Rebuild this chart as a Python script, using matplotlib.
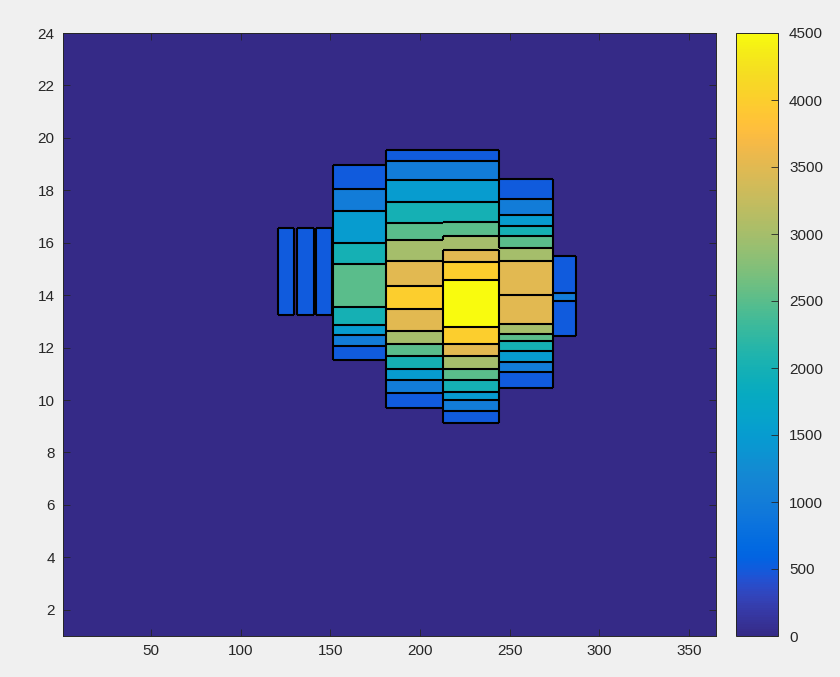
import numpy as np
import matplotlib
matplotlib.use("Agg")
import matplotlib.pyplot as plt
from matplotlib.colors import LinearSegmentedColormap, Normalize
from matplotlib.cm import ScalarMappable

plt.rcParams['font.family'] = ['Liberation Sans', 'DejaVu Sans']

# MATLAB parula colormap (64 entries)
parula_data = [
    [0.2081, 0.1663, 0.5292], [0.2116, 0.1898, 0.5777], [0.2123, 0.2138, 0.6270], [0.2081, 0.2386, 0.6771],
    [0.1959, 0.2645, 0.7279], [0.1707, 0.2919, 0.7792], [0.1253, 0.3242, 0.8303], [0.0591, 0.3598, 0.8683],
    [0.0117, 0.3875, 0.8820], [0.0060, 0.4086, 0.8828], [0.0165, 0.4266, 0.8786], [0.0329, 0.4430, 0.8720],
    [0.0498, 0.4586, 0.8641], [0.0629, 0.4737, 0.8554], [0.0723, 0.4887, 0.8467], [0.0779, 0.5040, 0.8384],
    [0.0793, 0.5200, 0.8312], [0.0749, 0.5375, 0.8263], [0.0641, 0.5570, 0.8240], [0.0488, 0.5772, 0.8228],
    [0.0343, 0.5966, 0.8199], [0.0265, 0.6137, 0.8135], [0.0239, 0.6287, 0.8038], [0.0231, 0.6418, 0.7913],
    [0.0228, 0.6535, 0.7768], [0.0267, 0.6642, 0.7607], [0.0384, 0.6743, 0.7436], [0.0590, 0.6838, 0.7254],
    [0.0843, 0.6928, 0.7062], [0.1133, 0.7015, 0.6859], [0.1453, 0.7098, 0.6646], [0.1801, 0.7177, 0.6424],
    [0.2178, 0.7250, 0.6193], [0.2586, 0.7317, 0.5954], [0.3022, 0.7376, 0.5712], [0.3482, 0.7424, 0.5473],
    [0.3953, 0.7459, 0.5244], [0.4420, 0.7481, 0.5033], [0.4871, 0.7491, 0.4840], [0.5300, 0.7491, 0.4661],
    [0.5709, 0.7485, 0.4494], [0.6099, 0.7473, 0.4337], [0.6473, 0.7456, 0.4188], [0.6834, 0.7435, 0.4044],
    [0.7184, 0.7411, 0.3905], [0.7525, 0.7384, 0.3768], [0.7858, 0.7356, 0.3633], [0.8185, 0.7327, 0.3498],
    [0.8507, 0.7299, 0.3360], [0.8824, 0.7274, 0.3217], [0.9139, 0.7258, 0.3063], [0.9450, 0.7261, 0.2886],
    [0.9739, 0.7314, 0.2666], [0.9938, 0.7455, 0.2403], [0.9990, 0.7653, 0.2164], [0.9955, 0.7861, 0.1967],
    [0.9880, 0.8066, 0.1794], [0.9789, 0.8271, 0.1633], [0.9697, 0.8481, 0.1475], [0.9626, 0.8705, 0.1309],
    [0.9589, 0.8949, 0.1132], [0.9598, 0.9218, 0.0948], [0.9661, 0.9514, 0.0755], [0.9763, 0.9831, 0.0538],
]
parula = LinearSegmentedColormap.from_list("parula", parula_data, N=256)

# Data: day-of-year spans, hour band edges (bottom -> top) and band levels
may_bar_days = [(121.0, 130.0), (131.3, 141.0), (142.1, 150.8)]
may_hours = [13.23, 16.57]
may_levels = [500]

june_days = (151.3, 181.0)
june_edges = [11.51, 12.06, 12.47, 12.86, 13.56, 15.17, 15.99, 17.20, 18.06, 18.95]
june_levels = [500, 1000, 1500, 2000, 2500, 2000, 1500, 1000, 500]

july_days = (181.0, 212.8)
july_edges = [9.71, 10.28, 10.76, 11.20, 11.68, 12.12, 12.63, 13.46, 14.34,
              15.29, 16.12, 16.76, 17.56, 18.40, 19.10, 19.55]
july_levels = [500, 1000, 1500, 2000, 2500, 3000, 3500, 4000, 3500,
               3000, 2500, 2000, 1500, 1000, 500]

aug_days = (212.8, 244.0)
aug_edges = [9.14, 9.58, 9.99, 10.32, 10.76, 11.20, 11.68, 12.12, 12.78,
             14.57, 15.27, 15.74, 16.25, 16.78, 17.56, 18.40, 19.10, 19.55]
aug_levels = [500, 1000, 1500, 2000, 2500, 3000, 3500, 4000, 4500,
              4000, 3500, 3000, 2500, 2000, 1500, 1000, 500]

sept_days = (244.0, 274.1)
sept_edges = [10.47, 11.08, 11.46, 11.87, 12.25, 12.53, 12.89, 13.99,
              15.29, 15.80, 16.27, 16.65, 17.07, 17.67, 18.43]
sept_levels = [500, 1000, 1500, 2000, 2500, 3000, 3500, 3500,
               3000, 2500, 2000, 1500, 1000, 500]

oct_days = (274.1, 286.9)
oct_edges = [12.44, 13.77, 14.09, 15.51]
oct_levels = [500, 1000, 500]

x_ticks = [50, 100, 150, 200, 250, 300, 350]
y_ticks = list(range(2, 25, 2))
cbar_ticks = list(range(0, 4501, 500))

vmin, vmax = 0, 4500
norm = Normalize(vmin, vmax)

columns = [(d, may_hours, may_levels) for d in may_bar_days] + [
    (june_days, june_edges, june_levels),
    (july_days, july_edges, july_levels),
    (aug_days, aug_edges, aug_levels),
    (sept_days, sept_edges, sept_levels),
    (oct_days, oct_edges, oct_levels),
]

BG = '#f0f0f0'
TXT = '#262626'
LW = 1.5
fig = plt.figure(figsize=(8.4, 6.77), dpi=100, facecolor=BG)
ax = fig.add_axes([63 / 840, 41 / 677, 653 / 840, 603 / 677])
ax.set_facecolor(parula(norm(vmin)))

# filled bands
for days, edges, levels in columns:
    edges = np.asarray(edges)
    n = len(levels)
    ax.bar(np.full(n, days[0]), np.diff(edges), width=days[1] - days[0],
           bottom=edges[:-1], align='edge',
           color=parula(norm(np.asarray(levels))), edgecolor='none', zorder=2)
    # horizontal band boundaries
    ax.hlines(edges, days[0], days[1], colors='black', linewidth=LW, zorder=3)

# vertical boundaries: only where the level differs on either side
yy = np.arange(1.0, 24.0, 0.002)


def level_at(edges, levels):
    edges = np.asarray(edges)
    idx = np.searchsorted(edges, yy, side='right') - 1
    out = np.zeros_like(yy)
    ok = (idx >= 0) & (idx < len(levels))
    out[ok] = np.asarray(levels)[idx[ok]]
    return out


def draw_vertical(x, left, right):
    diff = left != right
    if not diff.any():
        return
    d = np.diff(np.concatenate([[0], diff.astype(int), [0]]))
    starts = np.where(d == 1)[0]
    stops = np.where(d == -1)[0] - 1
    ax.vlines(np.full(len(starts), x), yy[starts], yy[stops],
              colors='black', linewidth=LW, zorder=3)


profiles = [level_at(e, l) for _, e, l in columns]
zero = np.zeros_like(yy)
for i, (days, _, _) in enumerate(columns):
    prev_adjacent = i > 0 and abs(columns[i - 1][0][1] - days[0]) < 1e-6
    next_adjacent = i + 1 < len(columns) and abs(columns[i + 1][0][0] - days[1]) < 1e-6
    if not prev_adjacent:
        draw_vertical(days[0], zero, profiles[i])
    if next_adjacent:
        draw_vertical(days[1], profiles[i], profiles[i + 1])
    else:
        draw_vertical(days[1], profiles[i], zero)

ax.set_xlim(1, 365)
ax.set_ylim(1, 24)
ax.set_xticks(x_ticks)
ax.set_yticks(y_ticks)
ax.tick_params(direction='in', length=5, width=0.6, color=TXT, labelcolor=TXT,
               labelsize=11, top=True, right=True, pad=6)
for s in ax.spines.values():
    s.set_color(TXT)
    s.set_linewidth(0.7)
    s.set_zorder(5)

# Colorbar
cax = fig.add_axes([736 / 840, 41 / 677, 42 / 840, 603 / 677])
cb = fig.colorbar(ScalarMappable(norm=norm, cmap=parula), cax=cax, ticks=cbar_ticks)
cb.outline.set_edgecolor(TXT)
cb.outline.set_linewidth(0.7)
cax.tick_params(direction='in', length=5, width=0.6, color=TXT, labelcolor=TXT,
                labelsize=11, pad=8)

fig.savefig('out.png', dpi=100, facecolor=BG)
